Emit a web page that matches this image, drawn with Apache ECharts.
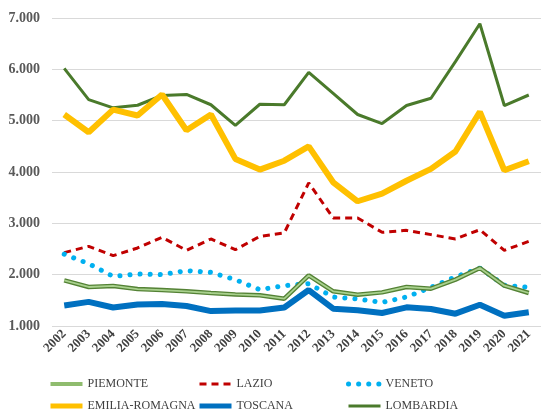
<!DOCTYPE html>
<html>
<head>
<meta charset="utf-8">
<script src="https://cdn.jsdelivr.net/npm/echarts@6/dist/echarts.min.js"></script>
<style>
  html, body { margin: 0; padding: 0; background: #fff; }
  #chart { width: 541px; height: 412px; }
</style>
</head>
<body>
<div id="chart"></div>
<script>
    let years = ['2002','2003','2004','2005','2006','2007','2008','2009','2010','2011',
                 '2012','2013','2014','2015','2016','2017','2018','2019','2020','2021'];
    let piemonte = [1890,1760,1780,1720,1700,1675,1643,1616,1597,1532,1986,1675,1610,1655,1760,1727,1903,2130,1786,1643];
    let lazio = [2430,2552,2370,2520,2727,2474,2695,2487,2747,2813,3788,3105,3105,2825,2863,2780,2696,2875,2474,2649];
    let veneto = [2400,2214,1967,2013,2000,2078,2045,1903,1707,1786,1825,1565,1526,1460,1565,1753,1955,2130,1794,1753];
    let emilia = [5120,4774,5216,5100,5510,4813,5120,4255,4047,4220,4500,3800,3430,3580,3830,4060,4400,5170,4034,4210];
    let toscana = [1400,1470,1360,1420,1430,1390,1290,1300,1300,1360,1700,1337,1305,1253,1363,1331,1240,1415,1200,1266];
    let lombardia = [6020,5410,5250,5300,5490,5510,5310,4910,5320,5310,5940,5530,5120,4944,5295,5437,6150,6887,5295,5500];

    let chart = echarts.init(document.getElementById('chart'));
    let font = '"Liberation Serif", "Times New Roman", serif';
    let legendText = { fontFamily: font, fontSize: 12, color: '#404040' };

    function legendCol(left, items) {
        return {
            orient: 'vertical',
            left: left,
            top: 378,
            height: 40,
            padding: 0,
            itemWidth: 32,
            itemHeight: 12,
            itemGap: 10,
            itemStyle: { opacity: 0 },
            textStyle: legendText,
            data: items
        };
    }

    let option = {
        animation: false,
        grid: { left: 52, right: -3, top: 18, bottom: 86 },
        xAxis: {
            type: 'category',
            data: years,
            boundaryGap: true,
            axisLine: { show: false },
            axisTick: { show: false },
            axisLabel: {
                rotate: 45,
                margin: 6,
                interval: 0,
                fontFamily: font,
                fontWeight: 'bold',
                fontSize: 13,
                color: '#404040'
            }
        },
        yAxis: {
            type: 'value',
            min: 1000,
            max: 7000,
            interval: 1000,
            axisLabel: {
                margin: 12,
                fontFamily: font,
                fontWeight: 'bold',
                fontSize: 14,
                color: '#595959',
                formatter: function (v) { return (v / 1000).toFixed(3); }
            },
            splitLine: { lineStyle: { color: '#d9d9d9', width: 1 } }
        },
        legend: [
            legendCol(48, [
                { name: 'PIEMONTE', lineStyle: { color: '#8fbc6e', width: 4 } },
                { name: 'EMILIA-ROMAGNA', lineStyle: { width: 5 } }
            ]),
            legendCol(197, [
                { name: 'LAZIO', lineStyle: { width: 3 } },
                { name: 'TOSCANA', lineStyle: { width: 5 } }
            ]),
            legendCol(346, [
                { name: 'VENETO', lineStyle: { width: 5 } },
                { name: 'LOMBARDIA', lineStyle: { width: 3 } }
            ])
        ],
        series: [
            {
                name: 'LOMBARDIA', type: 'line', data: lombardia, symbol: 'none',
                lineStyle: { color: '#4a7a2b', width: 3 }, itemStyle: { color: '#4a7a2b' }
            },
            {
                name: 'EMILIA-ROMAGNA', type: 'line', data: emilia, symbol: 'none',
                lineStyle: { color: '#ffc000', width: 6 }, itemStyle: { color: '#ffc000' }
            },
            {
                name: 'LAZIO', type: 'line', data: lazio, symbol: 'none',
                lineStyle: { color: '#c00000', width: 3, type: [7, 5] }, itemStyle: { color: '#c00000' }
            },
            {
                name: 'VENETO', type: 'line', data: veneto, symbol: 'none',
                lineStyle: { color: '#00b0f0', width: 5, type: [0.1, 10], cap: 'round' }, itemStyle: { color: '#00b0f0' }
            },
            {
                // dark outline under the piemonte line
                name: 'PIEMONTE_EDGE', type: 'line', data: piemonte, symbol: 'none',
                lineStyle: { color: '#548235', width: 4.5 }, silent: true
            },
            {
                name: 'PIEMONTE', type: 'line', data: piemonte, symbol: 'none',
                lineStyle: { color: '#a9d18e', width: 1.8 }, itemStyle: { color: '#70ad47' }
            },
            {
                name: 'TOSCANA', type: 'line', data: toscana, symbol: 'none',
                lineStyle: { color: '#0070c0', width: 6 }, itemStyle: { color: '#0070c0' }
            }
        ]
    };
    chart.setOption(option);
</script>
</body>
</html>
